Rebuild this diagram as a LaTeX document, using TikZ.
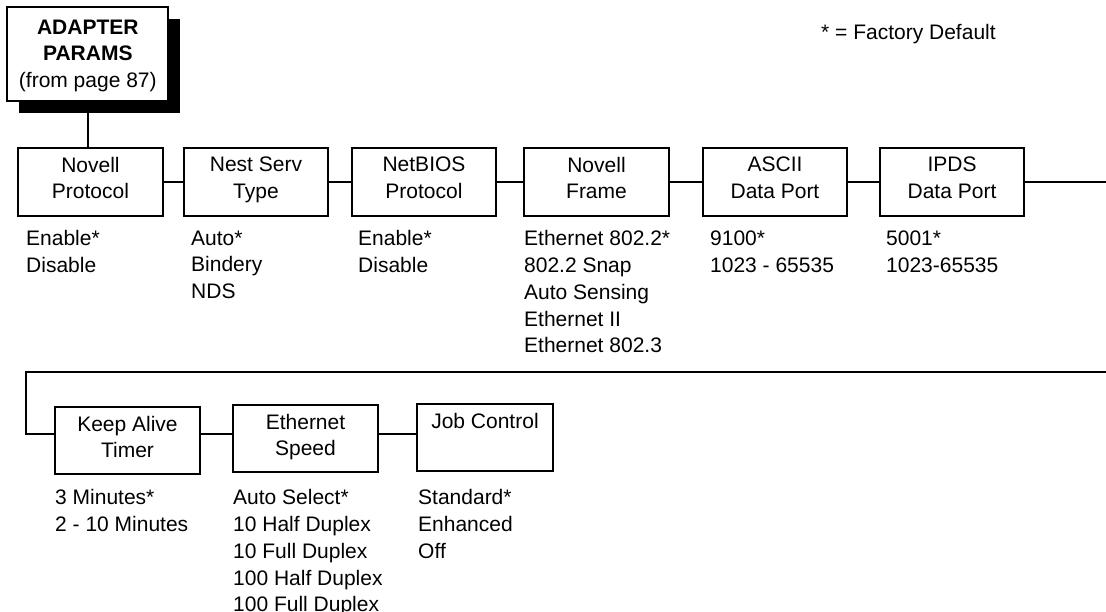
\documentclass[tikz,border=0pt]{standalone}
\usepackage{fontspec}
\setmainfont{Liberation Sans}
\usetikzlibrary{shadows}
\begin{document}
\begin{tikzpicture}[x=1pt,y=-1pt,
  lw/.style={line width=1.8pt},
  menubox/.style={draw,lw,fill=white,rectangle,inner sep=0pt,minimum width=145pt,minimum height=68pt},
  boxtxt/.style={anchor=north,inner sep=0pt,align=center,font=\fontsize{21}{26.7}\selectfont},
  opttxt/.style={anchor=north west,inner sep=0pt,align=left,font=\fontsize{21}{26.7}\selectfont},
  conn/.style={lw}
]
\useasboundingbox (0,0) rectangle (1106,611);

% top box with shadow
\node[draw,lw,fill=white,rectangle,inner sep=0pt,minimum width=161pt,minimum height=94pt,
  drop shadow={shadow xshift=12pt,shadow yshift=-12pt,opacity=1,fill=black}] (adapter) at (87.8,53.9) {};
\node[boxtxt] (adaptertxt) at (87.8,19.5) {\textbf{ADAPTER}\\\textbf{PARAMS}\\(from page 87)};

\node[anchor=base west,inner sep=0pt,font=\fontsize{21}{26.7}\selectfont] (legend) at (821,39.5) {* = Factory Default};

% row 1
\node[menubox,minimum width=145pt] (np) at (90.5,182) {};
\node[menubox,minimum width=144pt] (nst) at (256,182) {};
\node[menubox,minimum width=144pt] (nb) at (424,182) {};
\node[menubox,minimum width=145pt] (nf) at (596.5,182) {};
\node[menubox,minimum width=144pt] (ascii) at (775,182) {};
\node[menubox,minimum width=144pt] (ipds) at (952,182) {};

\node[boxtxt] (nptxt) at ([yshift=-9.5pt]np.north) {Novell\\Protocol};
\node[boxtxt] (nsttxt) at ([yshift=-9.5pt]nst.north) {Nest Serv\\Type};
\node[boxtxt] (nbtxt) at ([yshift=-9.5pt]nb.north) {NetBIOS\\Protocol};
\node[boxtxt] (nftxt) at ([yshift=-9.5pt]nf.north) {Novell\\Frame};
\node[boxtxt] (asciitxt) at ([yshift=-9.5pt]ascii.north) {ASCII\\Data Port};
\node[boxtxt] (ipdstxt) at ([yshift=-9.5pt]ipds.north) {IPDS\\Data Port};

\node[opttxt] (npopt) at (26,230.5) {Enable*\\Disable};
\node[opttxt] (nstopt) at (191,230.5) {Auto*\\Bindery\\NDS};
\node[opttxt] (nbopt) at (358,230.5) {Enable*\\Disable};
\node[opttxt] (nfopt) at (524,230.5) {Ethernet 802.2*\\802.2 Snap\\Auto Sensing\\Ethernet II\\Ethernet 802.3};
\node[opttxt] (asciiopt) at (710,230.5) {9100*\\1023 - 65535};
\node[opttxt] (ipdsopt) at (886,230.5) {5001*\\1023-65535};

% row 2
\node[menubox,minimum width=145pt,minimum height=67pt] (ka) at (127.5,440.5) {};
\node[menubox,minimum width=145pt,minimum height=67pt] (es) at (305.5,438.5) {};
\node[menubox,minimum width=136pt,minimum height=67pt] (jc) at (485,437.5) {};

\node[boxtxt] (katxt) at ([yshift=-9.5pt]ka.north) {Keep Alive\\Timer};
\node[boxtxt] (estxt) at ([yshift=-9.5pt]es.north) {Ethernet\\Speed};
\node[boxtxt] (jctxt) at ([yshift=-10pt]jc.north) {Job Control};

\node[opttxt] (kaopt) at (55,489.5) {3 Minutes*\\2 - 10 Minutes};
\node[opttxt] (esopt) at (233,489.5) {Auto Select*\\10 Half Duplex\\10 Full Duplex\\100 Half Duplex\\100 Full Duplex};
\node[opttxt] (jcopt) at (418,489.5) {Standard*\\Enhanced\\Off};

% connectors
\coordinate (r1end) at (1106,182);
\coordinate (wrapR) at (1106,372);
\coordinate (wrapL) at (26,372);
\coordinate (r2) at (0,434);

\draw[conn] (adapter.south) -- (adapter.south |- np.north);
\draw[conn] (np.east) -- (nst.west);
\draw[conn] (nst.east) -- (nb.west);
\draw[conn] (nb.east) -- (nf.west);
\draw[conn] (nf.east) -- (ascii.west);
\draw[conn] (ascii.east) -- (ipds.west);
\draw[conn] (ipds.east) -- (r1end);
\draw[conn] (wrapR) -- (wrapL) |- (ka.west |- r2);
\draw[conn] (ka.east |- r2) -- (es.west |- r2);
\draw[conn] (es.east |- r2) -- (jc.west |- r2);
\end{tikzpicture}
\end{document}
